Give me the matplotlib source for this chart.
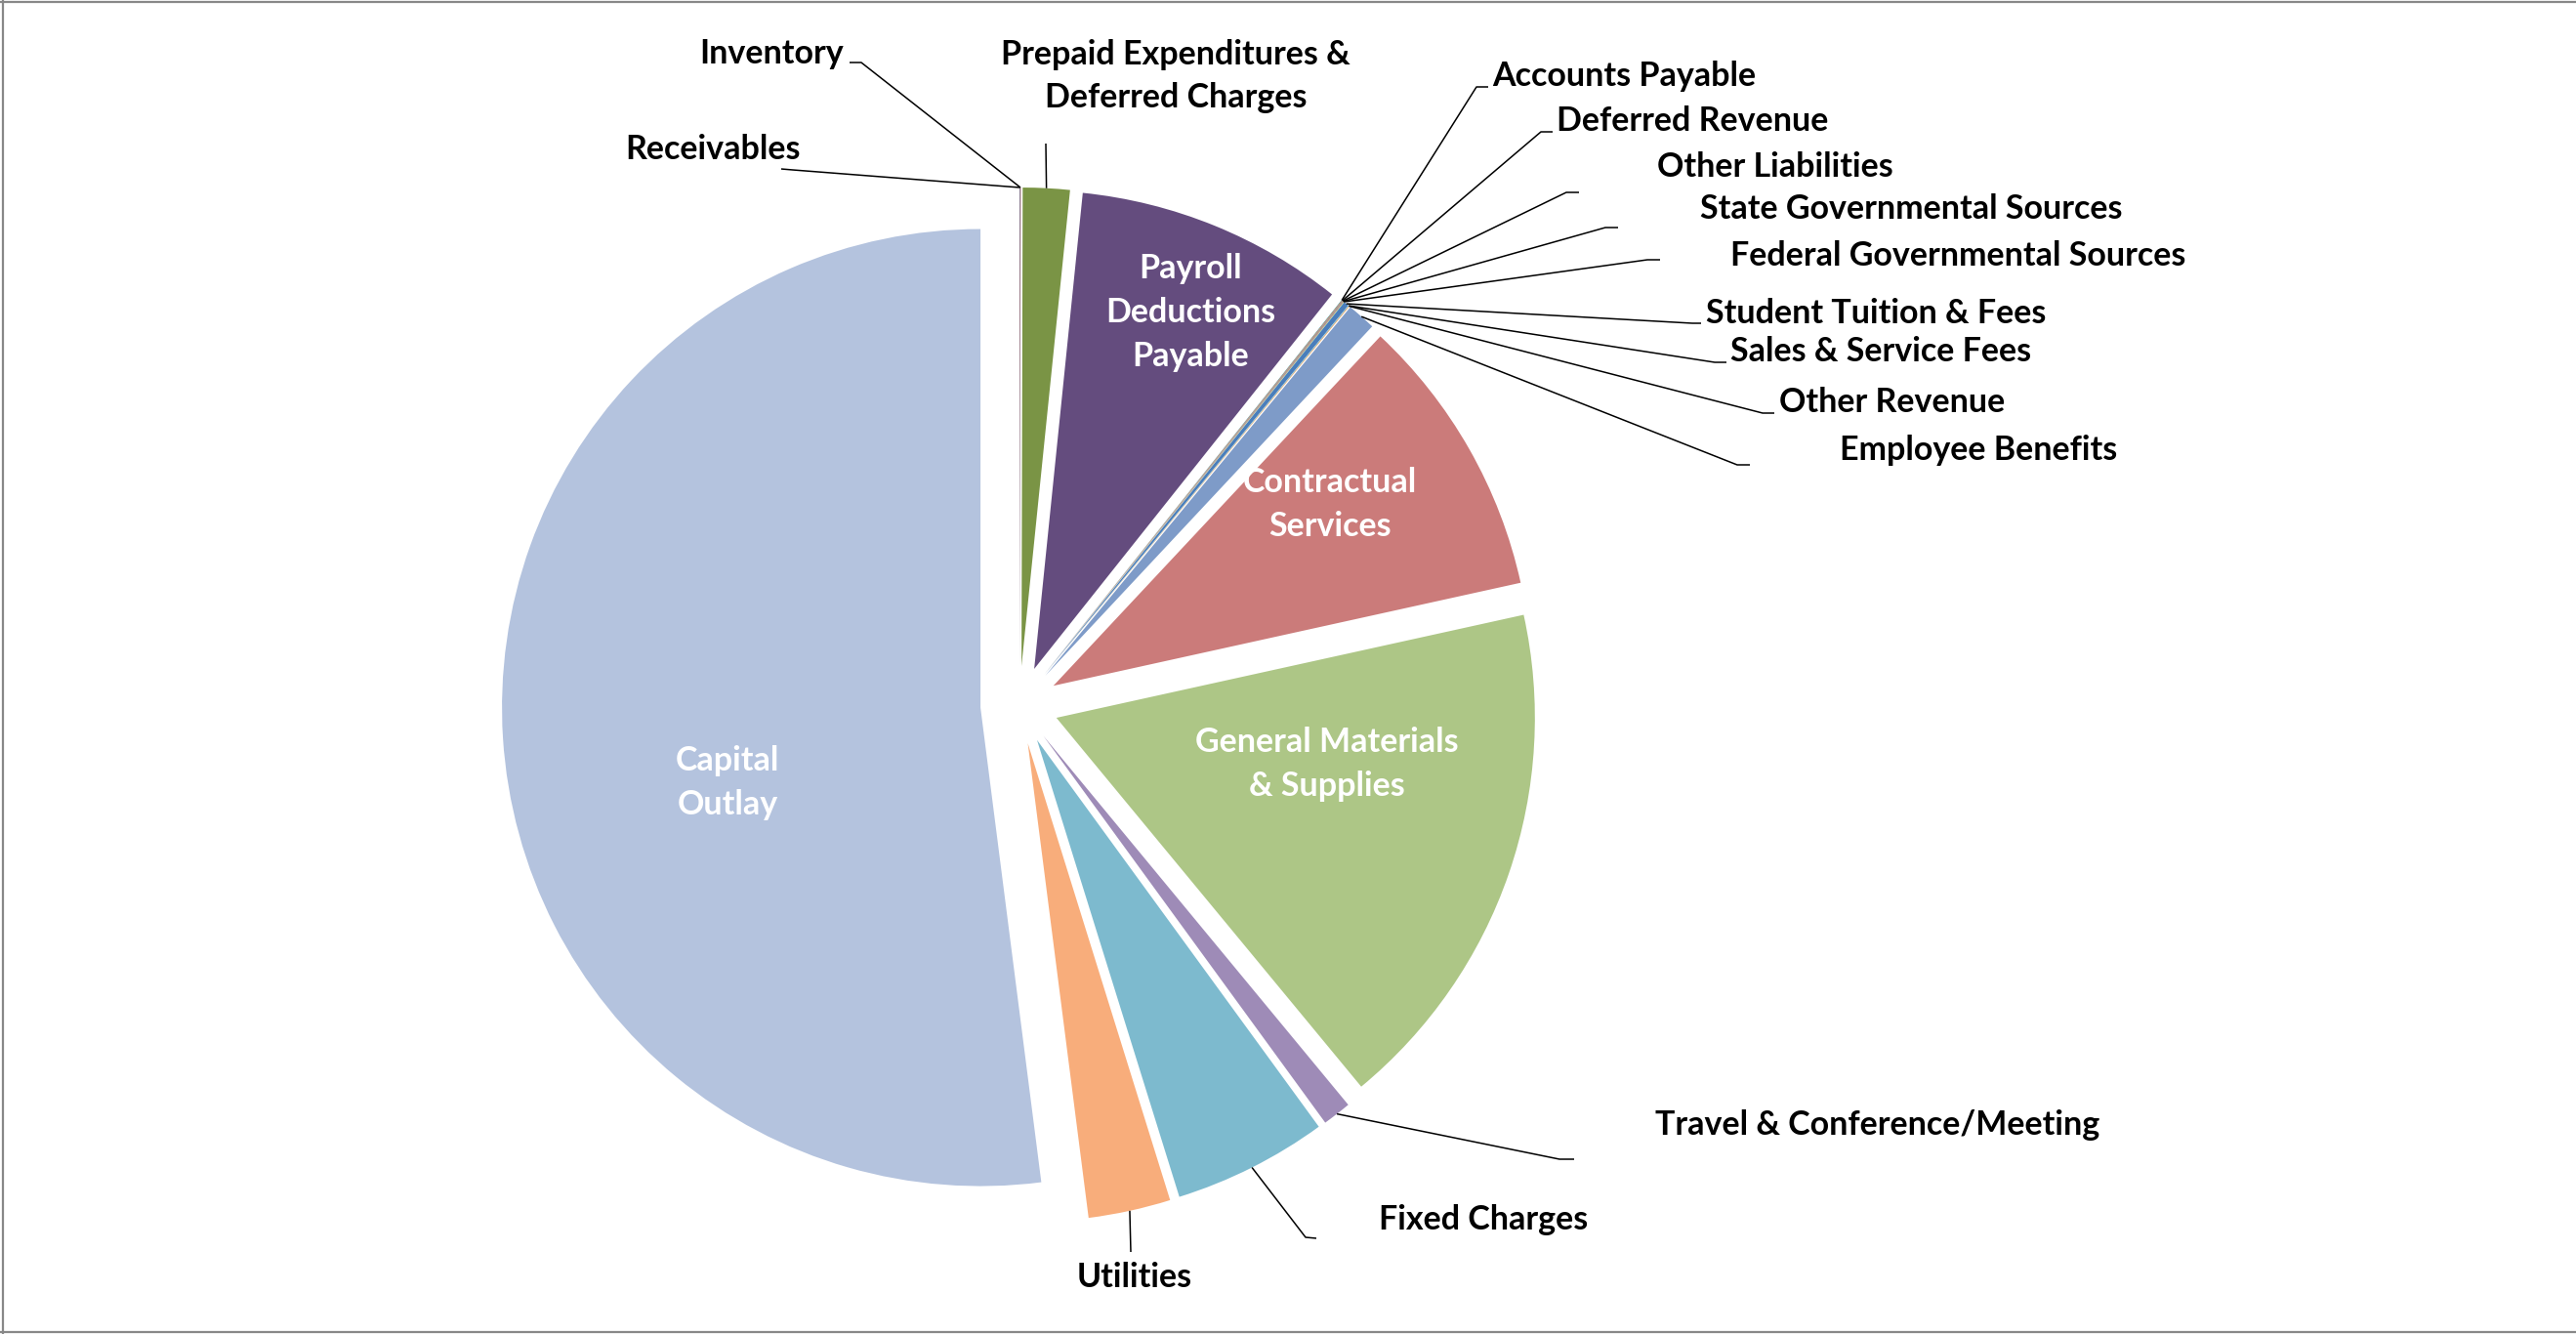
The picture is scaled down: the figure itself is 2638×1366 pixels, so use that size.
import matplotlib
matplotlib.use("Agg")
import matplotlib.pyplot as plt
import numpy as np
from matplotlib.lines import Line2D

# ---------------- data (share of total, %) ----------------
categories = [
    "Receivables", "Inventory", "Prepaid Expenditures &\nDeferred Charges",
    "Payroll\nDeductions\nPayable", "Accounts Payable", "Deferred Revenue",
    "Other Liabilities", "State Governmental Sources", "Federal Governmental Sources",
    "Student Tuition & Fees", "Sales & Service Fees", "Other Revenue",
    "Employee Benefits", "Contractual\nServices", "General Materials\n& Supplies",
    "Travel & Conference/Meeting", "Fixed Charges", "Utilities", "Capital\nOutlay",
]
values = [0.02, 0.02, 1.58, 9.08, 0.02, 0.02, 0.02, 0.02, 0.02,
          0.17, 0.02, 0.02, 0.97, 9.58, 17.47, 0.97, 5.22, 2.78, 52.06]
colors = ["#3B6196", "#943634", "#7A9445", "#644C7E", "#31859C", "#E46C0A",
          "#4A7EBB", "#C0504D", "#9BBB59", "#4A7EBB", "#4BACC6", "#F79646",
          "#7E9BC8", "#CB7B7A", "#ADC686", "#9E8BB7", "#7DBACE", "#F8AD7B", "#B4C3DE"]
inside_labels = ["Payroll\nDeductions\nPayable", "Contractual\nServices",
                 "General Materials\n& Supplies", "Capital\nOutlay"]

# ---------------- layout (pixels of the 2638x1366 canvas) ----------------
W, H = 2638, 1366
CX, CY, R = 1044, 722, 490
EXPLODE = 40 / 490

def P(px, py):
    return ((px - CX) / R, (CY - py) / R)

FONT = ["Lato", "DejaVu Sans"]
FS = 24.5
LS = 1.5

fig = plt.figure(figsize=(W / 100, H / 100), dpi=100)
ax = fig.add_axes([0, 0, 1, 1])
wedges, _ = ax.pie(values, explode=[EXPLODE] * len(values), colors=colors,
                   startangle=90, counterclock=False, radius=1,
                   wedgeprops=dict(linewidth=0))
ax.set_xlim(-CX / R, (W - CX) / R)
ax.set_ylim(-(H - CY) / R, CY / R)
ax.set_aspect("equal")
ax.axis("off")

def anchor(i):
    w = wedges[i]
    mid = np.deg2rad((w.theta1 + w.theta2) / 2)
    cx, cy = w.center
    return (cx + w.r * np.cos(mid), cy + w.r * np.sin(mid))

# inside labels (pixel centres)
inside_pos = {
    "Payroll\nDeductions\nPayable": (1219, 320),
    "Contractual\nServices": (1362, 516),
    "General Materials\n& Supplies": (1359, 782),
    "Capital\nOutlay": (745, 801),
}
for lab in inside_labels:
    x, y = P(*inside_pos[lab])
    ax.text(x, y, lab, ha="center", va="center", color="white", fontsize=FS,
            fontweight="bold", family=FONT, linespacing=LS)

# outside labels: text position, alignment, leader path (pixels) towards slice
outside = {
    "Receivables": ((640, 153), "left", [(800, 173), (812, 174)]),
    "Inventory": ((864, 55), "right", [(870, 64), (882, 64)]),
    "Prepaid Expenditures &\nDeferred Charges": ((1204, 78), "center", [(1071, 147)]),
    "Accounts Payable": ((1528, 78), "left", [(1524, 89), (1512, 89)]),
    "Deferred Revenue": ((1594, 124), "left", [(1590, 135), (1578, 135)]),
    "Other Liabilities": ((1697, 171), "left", [(1617, 197), (1604, 197)]),
    "State Governmental Sources": ((1741, 214), "left", [(1657, 233), (1644, 233)]),
    "Federal Governmental Sources": ((1772, 262), "left", [(1700, 266), (1687, 266)]),
    "Student Tuition & Fees": ((1747, 321), "left", [(1742, 331), (1733, 331)]),
    "Sales & Service Fees": ((1772, 360), "left", [(1768, 371), (1756, 371)]),
    "Other Revenue": ((1822, 412), "left", [(1817, 423), (1805, 423)]),
    "Employee Benefits": ((1884, 461), "left", [(1792, 476), (1779, 476)]),
    "Travel & Conference/Meeting": ((1695, 1152), "left", [(1612, 1187), (1597, 1187)]),
    "Fixed Charges": ((1412, 1249), "left", [(1348, 1268), (1337, 1267)]),
    "Utilities": ((1162, 1308), "center", [(1158, 1282)]),
}
for i, lab in enumerate(categories):
    if lab not in outside:
        continue
    (tx, ty), ha, path = outside[lab]
    x, y = P(tx, ty)
    ax.text(x, y, lab, ha=ha, va="center", color="black", fontsize=FS,
            fontweight="bold", family=FONT, linespacing=LS)
    pts = [P(*p) for p in path] + [anchor(i)]
    xs, ys = zip(*pts)
    ax.plot(xs, ys, color="black", lw=1.1, solid_capstyle="butt")

# chart border (left, top, bottom visible)
for xs, ys in [([0.0012, 0.0012], [0, 1]), ([0, 1], [0.9985, 0.9985]), ([0, 1], [0.0012, 0.0012])]:
    fig.add_artist(Line2D(xs, ys, transform=fig.transFigure, color="#888888", lw=1.6))

fig.savefig("out.png", dpi=100, facecolor="white")
